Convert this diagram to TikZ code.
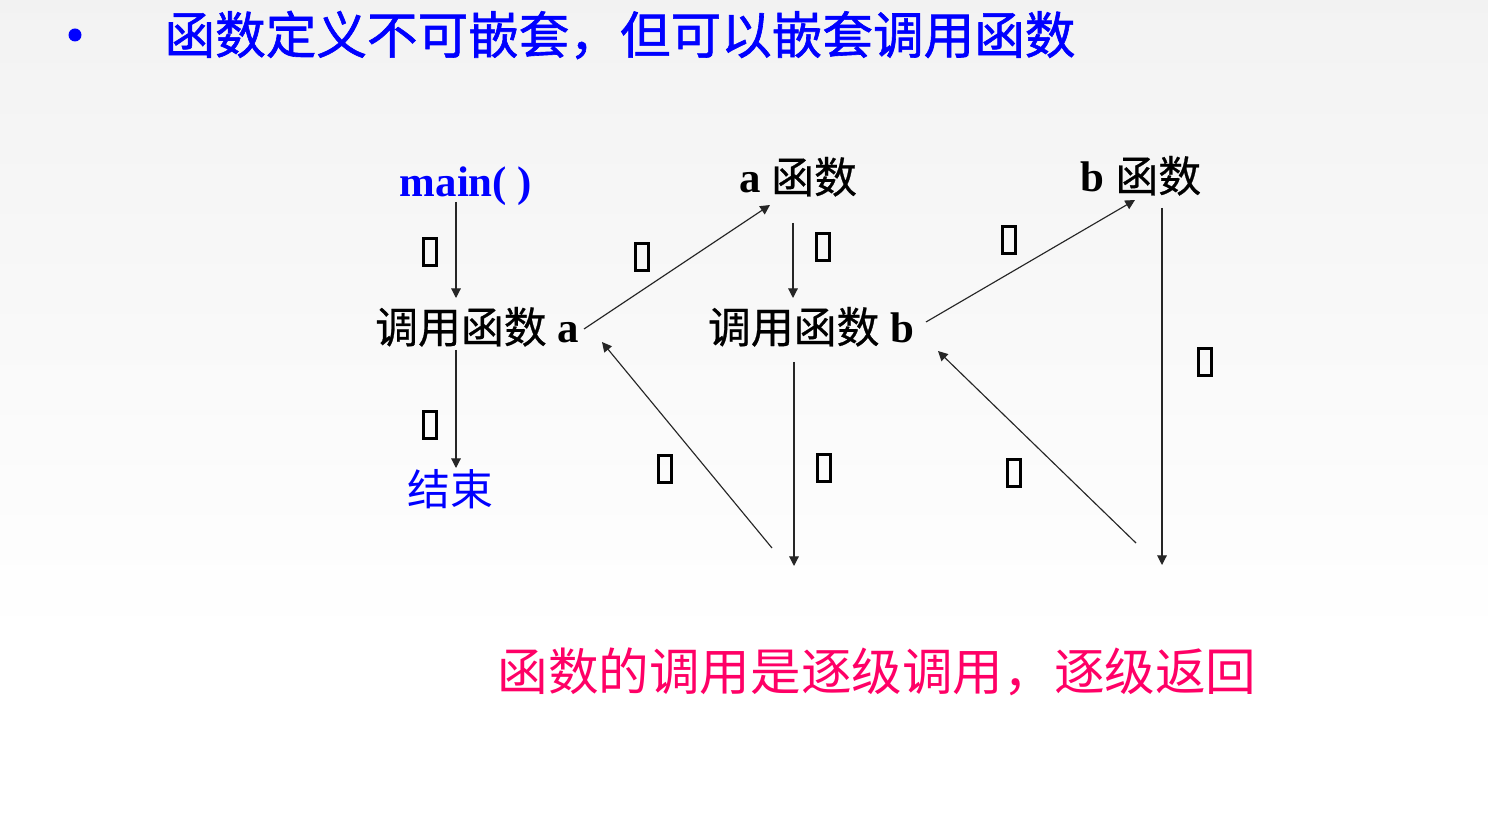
\documentclass[tikz,border=0pt]{standalone}
\usepackage{fontspec}
\setmainfont{Liberation Serif}
\newfontfamily\cjk{Noto Sans CJK SC}
\newfontfamily\cjkm[FakeBold=1.2]{Noto Sans CJK SC}
\newfontfamily\cjkl[FakeBold=0.6]{Noto Sans CJK SC}
\usetikzlibrary{arrows.meta}
\definecolor{pinkred}{HTML}{FF0066}
\definecolor{linegray}{HTML}{262626}
\begin{document}
\begin{tikzpicture}[x=0.02cm,y=-0.02cm,
  arr/.style={draw=linegray, line width=0.65pt, -{Triangle[length=5.5pt,width=5.5pt]}},
  tofu/.style={draw=black, line width=1.4pt, minimum width=7.6pt, minimum height=15.6pt, inner sep=0pt},
  lbl/.style={inner sep=0pt, anchor=base, font=\fontsize{24.4}{28}\selectfont},
  big/.style={inner sep=0pt, font=\cjk\fontsize{28.8}{32}\selectfont}
]
% background
\shade[top color=gray!10, bottom color=white] (0,0) rectangle (1488,640);
\fill[white] (0,640) rectangle (1488,820);
\useasboundingbox (0,0) rectangle (1488,820);

% title
\fill[blue] (75,35) circle (6.5);
\node[big, text=blue, font=\cjkm\fontsize{28.8}{32}\selectfont] (title) at (620,35) {函数定义不可嵌套，但可以嵌套调用函数};

% nodes
\node[lbl, text=blue, font=\bfseries\fontsize{24.4}{28}\selectfont] (main) at (466,197) {main( )};
\node[lbl] (afunc) at (798,193) {\bfseries a {\cjkl\mdseries 函数}};
\node[lbl] (bfunc) at (1141,192) {\bfseries b {\cjkl\mdseries 函数}};
\node[lbl] (calla) at (477,343) {{\cjkl 调用函数} \bfseries a};
\node[lbl] (callb) at (811,343) {{\cjkl 调用函数} \bfseries b};
\node[inner sep=0pt, text=blue, font=\cjk\fontsize{24.4}{28}\selectfont] (endn) at (450,489) {结束};

% connector end points
\coordinate (m1) at (456,202);  \coordinate (m2) at (456,298);
\coordinate (a1) at (584,329);  \coordinate (a2) at (770,205);
\coordinate (a3) at (793,223);  \coordinate (a4) at (793,298);
\coordinate (b1) at (926,322);  \coordinate (b2) at (1135,200);
\coordinate (b3) at (1162,208); \coordinate (b4) at (1162,565);
\coordinate (r1) at (1136,543); \coordinate (r2) at (938,351);
\coordinate (c1) at (794,362);  \coordinate (c2) at (794,566);
\coordinate (r3) at (772,548);  \coordinate (r4) at (602,342);
\coordinate (e1) at (456,350);  \coordinate (e2) at (456,468);

\draw[arr] (m1) -- (m2);
\draw[arr] (a1) -- (a2);
\draw[arr] (a3) -- (a4);
\draw[arr] (b1) -- (b2);
\draw[arr] (b3) -- (b4);
\draw[arr] (r1) -- (r2);
\draw[arr] (c1) -- (c2);
\draw[arr] (r3) -- (r4);
\draw[arr] (e1) -- (e2);

% labels (missing glyph boxes)
\node[tofu] (t1) at (430,252) {};
\node[tofu] (t2) at (642,257) {};
\node[tofu] (t3) at (823,247) {};
\node[tofu] (t4) at (1009,240) {};
\node[tofu] (t5) at (1205,362) {};
\node[tofu] (t6) at (1014,473) {};
\node[tofu] (t7) at (824,468) {};
\node[tofu] (t8) at (665,469) {};
\node[tofu] (t9) at (430,425) {};

% bottom note
\node[big, text=pinkred] (note) at (877,672) {函数的调用是逐级调用，逐级返回};
\end{tikzpicture}
\end{document}
